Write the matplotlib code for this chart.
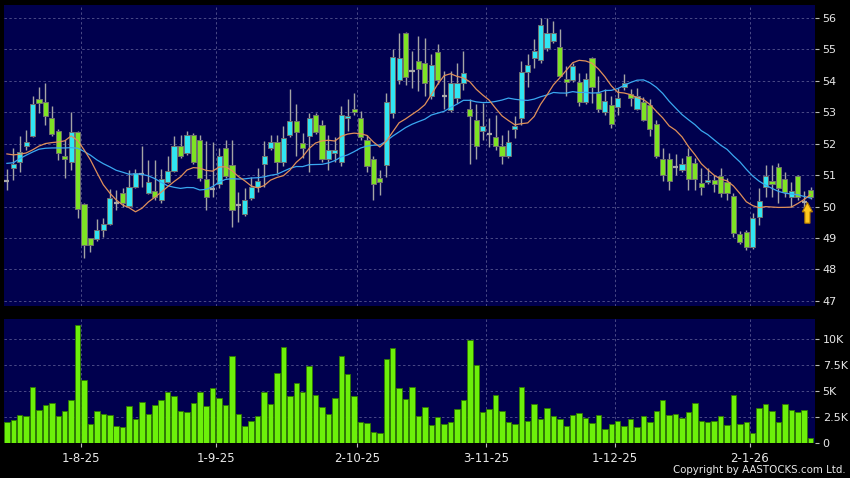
import matplotlib
matplotlib.use('Agg')
import matplotlib.pyplot as plt
import numpy as np
import pandas as pd
from matplotlib.patches import FancyArrow
from matplotlib.ticker import FuncFormatter

# AASTOCKS-style colours
BG = '#000000'
PANEL = '#00004E'
GRID = '#4A4A86'
UP = '#30E6F2'
DOWN = '#7EE324'
DOJI = '#A8A8A8'
WICK = '#A4A4A4'
EDGE = '#707070'
VOL = '#6CF00A'
VOL_EDGE = '#2F7A00'
MA10_C = '#E0905A'
MA20_C = '#3AA8F0'
TEXT = '#E8E8E8'

# Daily OHLC, 17 Jul 2025 .. 16 Jan 2026
opens = [50.8, 51.21, 51.42, 51.93, 52.25, 53.41, 53.31, 52.8, 52.4, 51.59,
         51.4, 52.36, 50.07, 49.0, 48.96, 49.25, 49.43, 50.1, 50.42, 50.02,
         50.63, 51.03, 50.44, 50.5, 50.21, 50.79, 51.14, 51.91, 51.7, 52.26,
         52.1, 50.88, 50.55, 50.71, 51.86, 51.32, 50.05, 49.75, 50.28, 50.63,
         51.35, 51.86, 52.04, 51.41, 52.26, 52.71, 52.01, 52.23, 52.9, 52.6,
         51.5, 51.7, 51.41, 52.81, 53.1, 52.81, 52.1, 51.5, 50.9, 51.32,
         52.97, 54.03, 55.52, 54.3, 54.62, 54.57, 53.52, 54.92, 53.52, 53.08,
         53.45, 53.93, 53.1, 52.76, 52.4, 52.3, 52.2, 51.93, 51.6, 52.45,
         52.8, 54.28, 54.72, 54.64, 55.02, 55.27, 55.08, 54.05, 54.03, 53.96,
         53.33, 54.72, 53.6, 53.0, 53.21, 53.17, 53.79, 53.58, 53.1, 53.31,
         53.21, 52.61, 51.5, 51.5, 51.25, 51.16, 51.6, 51.39, 50.76, 50.79,
         50.85, 50.97, 50.79, 50.34, 49.14, 49.2, 48.7, 49.67, 50.62, 50.81,
         51.24, 50.87, 50.31, 50.98, 50.15, 50.51]
highs = [51.2, 51.85, 52.24, 52.43, 53.52, 53.79, 53.92, 53.2, 52.45, 52.11,
         53.01, 52.4, 50.1, 49.0, 49.59, 49.62, 50.57, 50.53, 50.58, 51.16,
         51.2, 51.93, 51.48, 51.48, 51.2, 51.6, 52.23, 52.28, 52.4, 52.33,
         52.28, 52.07, 52.05, 51.85, 52.1, 52.11, 50.47, 50.58, 50.95, 51.22,
         52.07, 52.28, 52.28, 52.55, 53.72, 53.24, 52.33, 52.97, 52.97, 52.76,
         52.28, 52.2, 53.18, 53.4, 53.61, 53.02, 52.28, 51.6, 51.16, 53.61,
         54.99, 55.52, 55.55, 54.94, 55.42, 55.36, 54.83, 55.15, 54.3, 54.3,
         54.57, 54.94, 53.4, 53.26, 53.29, 52.81, 52.92, 52.28, 52.44, 52.87,
         54.62, 54.83, 55.31, 56.0, 56.0, 55.9, 55.63, 54.46, 54.57, 54.23,
         54.23, 54.75, 54.14, 53.72, 53.5, 53.75, 54.21, 53.72, 53.77, 53.48,
         53.4, 52.76, 51.86, 51.7, 51.67, 51.55, 51.85, 51.55, 51.21, 51.21,
         51.0, 51.21, 50.9, 50.44, 49.22, 49.25, 49.78, 50.58, 51.32, 51.32,
         51.37, 51.1, 50.79, 51.0, 50.5, 50.62]
lows = [50.53, 50.84, 51.1, 51.8, 52.2, 52.96, 52.59, 52.25, 51.48, 50.89,
        51.16, 49.62, 48.35, 48.56, 48.9, 49.04, 49.4, 49.9, 50.0, 50.0,
        50.6, 50.63, 50.4, 50.2, 50.1, 50.75, 51.1, 51.55, 51.65, 51.35,
        50.8, 49.9, 50.3, 50.6, 50.9, 49.36, 49.52, 49.7, 50.2, 50.47,
        50.63, 51.8, 51.06, 51.3, 52.2, 51.59, 51.54, 51.11, 52.3, 51.4,
        51.16, 51.4, 51.3, 52.39, 52.9, 52.1, 51.1, 50.21, 50.37, 50.95,
        52.8, 53.9, 53.87, 53.77, 53.66, 53.5, 53.4, 53.9, 53.1, 53.0,
        53.3, 53.7, 51.35, 51.5, 52.1, 51.9, 51.8, 51.35, 51.55, 52.17,
        52.6, 53.8, 54.4, 54.55, 54.95, 55.2, 54.1, 53.5, 53.95, 53.18,
        53.25, 53.29, 53.0, 52.9, 52.5, 52.9, 53.7, 53.2, 53.05, 52.7,
        52.23, 51.55, 50.8, 50.52, 51.0, 51.1, 50.52, 50.52, 50.37, 50.7,
        50.45, 50.31, 50.2, 49.04, 48.8, 48.62, 48.65, 49.41, 50.31, 50.31,
        50.1, 50.3, 50.0, 50.2, 50.0, 50.25]
closes = [50.8, 51.35, 51.74, 52.04, 53.26, 53.3, 52.88, 52.3, 51.69, 51.5,
          52.36, 49.91, 48.79, 48.79, 49.25, 49.43, 50.26, 50.1, 50.1, 50.63,
          51.06, 51.03, 50.79, 50.29, 50.88, 51.14, 51.91, 51.59, 52.26, 51.4,
          50.9, 50.31, 50.55, 51.61, 50.97, 49.89, 50.05, 50.21, 50.63, 50.81,
          51.61, 52.04, 51.41, 52.17, 52.71, 52.37, 51.86, 52.81, 52.37, 51.5,
          51.8, 51.8, 52.9, 52.89, 53.0, 52.2, 51.3, 50.72, 50.79, 53.32,
          54.76, 54.72, 54.12, 54.3, 54.37, 53.93, 54.49, 54.03, 53.52, 53.93,
          53.93, 54.23, 52.89, 51.92, 52.55, 52.3, 51.92, 51.6, 52.04, 52.57,
          54.27, 54.49, 54.94, 55.78, 55.52, 55.52, 54.15, 53.97, 54.46, 53.33,
          54.06, 53.78, 53.1, 53.35, 52.63, 53.45, 53.92, 53.45, 53.5, 52.76,
          52.47, 51.61, 51.01, 50.8, 51.25, 51.34, 50.87, 50.87, 50.61, 50.85,
          50.7, 50.44, 50.42, 49.17, 48.86, 48.72, 49.64, 50.19, 50.98, 50.71,
          50.58, 50.46, 50.5, 50.31, 50.15, 50.3]
# volume in thousands of shares
volume_k = [2.04, 2.24, 2.75, 2.62, 5.37, 3.16, 3.64, 3.83, 2.59, 3.07,
            4.15, 11.34, 6.04, 1.88, 3.07, 2.78, 2.72, 1.66, 1.53, 3.61,
            2.33, 3.93, 2.81, 3.64, 4.15, 4.92, 4.5, 3.07, 3.04, 3.83,
            4.95, 3.55, 5.27, 4.35, 3.64, 8.37, 2.81, 1.69, 2.11, 2.62,
            4.89, 3.77, 6.77, 9.2, 4.54, 5.75, 4.95, 7.41, 4.6, 3.51,
            2.84, 4.38, 8.37, 6.61, 4.54, 2.04, 1.92, 1.12, 0.99, 8.08,
            9.17, 5.27, 4.25, 5.43, 2.59, 3.45, 1.73, 2.56, 1.85, 2.08,
            3.29, 4.12, 9.9, 7.54, 3.0, 3.29, 4.6, 3.13, 2.04, 1.85,
            5.37, 2.11, 3.77, 2.36, 3.35, 2.62, 2.33, 1.63, 2.68, 2.94,
            2.46, 1.98, 2.68, 1.41, 1.88, 2.17, 1.63, 2.36, 1.6, 2.59,
            2.01, 3.13, 4.19, 2.75, 2.84, 2.4, 2.97, 3.87, 2.17, 2.04,
            2.17, 2.62, 1.79, 4.6, 1.85, 2.04, 0.96, 3.42, 3.77, 3.13,
            2.04, 3.8, 3.19, 3.04, 3.23, 0.48]

# moving averages before the window is long enough
ma10_head = [51.67, 51.64, 51.66, 51.7, 51.8, 51.92, 52.0, 52.03, 52.05]
ma20_head = [51.37, 51.39, 51.52, 51.63, 51.73, 51.82, 51.85, 51.86, 51.86, 51.86,
             51.87, 51.85, 51.75, 51.63, 51.48, 51.36, 51.26, 51.15, 51.09]

# first trading day of each month (index) and its label
month_idx = [11, 32, 54, 74, 94, 115]
month_labels = ['1-8-25', '1-9-25', '2-10-25', '3-11-25', '1-12-25', '2-1-26']

o = np.array(opens)
h = np.array(highs)
l = np.array(lows)
c = np.array(closes)
n = len(c)
x = np.arange(n)

s = pd.Series(c)
ma10 = s.rolling(10).mean().to_numpy()
ma10[:len(ma10_head)] = ma10_head
ma20 = s.rolling(20).mean().to_numpy()
ma20[:len(ma20_head)] = ma20_head

W, H = 850, 478
fig = plt.figure(figsize=(W / 100, H / 100), dpi=100, facecolor=BG)
ax = fig.add_axes([4 / W, 1 - 306 / H, 811 / W, 301 / H])
axv = fig.add_axes([4 / W, 1 - 443.3 / H, 811 / W, 124.3 / H], sharex=ax)

grid_x = [i + 0.5 for i in month_idx]

for a in (ax, axv):
    a.set_facecolor(PANEL)
    a.set_axisbelow(True)
    for sp in a.spines.values():
        sp.set_visible(False)
    a.yaxis.tick_right()
    a.grid(True, color=GRID, linestyle=(0, (2.5, 2.5)), linewidth=0.7)
    a.tick_params(axis='y', colors='#BBBBBB', labelcolor=TEXT, length=3,
                  width=0.8, pad=2.5, labelsize=8)

# candles
up = c > o
down = c < o
flat = c == o
ax.vlines(x, l, h, color=WICK, linewidth=1.0, zorder=2)
body_w = 0.8
ax.bar(x[up], (c - o)[up], bottom=o[up], width=body_w, color=UP,
       edgecolor=EDGE, linewidth=0.7, zorder=3)
ax.bar(x[down], (o - c)[down], bottom=c[down], width=body_w, color=DOWN,
       edgecolor=EDGE, linewidth=0.7, zorder=3)
ax.hlines(c[flat], x[flat] - body_w / 2, x[flat] + body_w / 2, color=DOJI,
          linewidth=1.6, zorder=3)

ax.plot(x, ma20, color=MA20_C, linewidth=0.9, zorder=4)
ax.plot(x, ma10, color=MA10_C, linewidth=0.9, zorder=4)

# marker arrow under the latest session
arrow_x = n - 1.5
ax.add_patch(FancyArrow(arrow_x, c[-2] - 0.68, 0, 0.66, width=0.8,
                        head_width=1.6, head_length=0.3,
                        length_includes_head=True, facecolor='#FFC81E',
                        edgecolor='#B07800', linewidth=0.8, zorder=6))

ax.set_xlim(-0.45, 125.68)
ax.set_ylim(46.84, 56.40)
ax.set_yticks(range(47, 57))
ax.set_xticks(grid_x)
ax.tick_params(axis='x', bottom=False, labelbottom=False)

# volume
axv.bar(x, np.array(volume_k) * 1000, width=0.85, color=VOL,
        edgecolor=VOL_EDGE, linewidth=0.6, zorder=3)
axv.set_ylim(0, 11920)
axv.set_yticks([0, 2500, 5000, 7500, 10000])
axv.yaxis.set_major_formatter(
    FuncFormatter(lambda v, p: '0' if v == 0 else f'{v / 1000:g}K'))
axv.set_xticks(grid_x)
axv.set_xticklabels(month_labels)
axv.tick_params(axis='x', colors='#BBBBBB', labelcolor=TEXT, length=3,
                width=0.8, pad=3, labelsize=8.5)

fig.text(0.995, 0.006, 'Copyright by AASTOCKS.com Ltd.', ha='right',
         va='bottom', fontsize=7.4, color=TEXT)

fig.savefig('out.png', dpi=100, facecolor=BG)
plt.close(fig)
